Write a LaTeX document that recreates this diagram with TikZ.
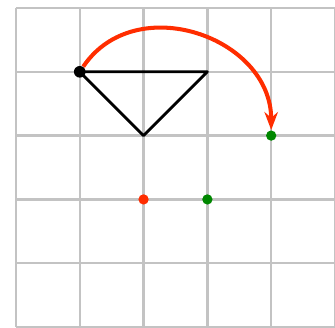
\documentclass[tikz,border=0pt]{standalone}
\usepackage{tikz}
\usetikzlibrary{positioning,arrows.meta}

\definecolor{rotred}{RGB}{255,45,0}
\definecolor{dotgreen}{RGB}{0,135,0}
\definecolor{gridgray}{RGB}{195,195,195}

\tikzset{
  gridline/.style={gridgray, line width=1.1pt},
  edge/.style={black, line width=1.25pt, line join=round},
  pt/.style={circle, fill, inner sep=0pt, minimum size=4.6pt},
  rotarrow/.style={rotred, line width=1.8pt, -{Stealth[length=8pt,width=6pt]}},
}

\begin{document}
\begin{tikzpicture}
  \useasboundingbox (-0.25,0) rectangle (5,5.125);
  % Griglia
  \draw[gridline] (0,0) grid (5,5);

  % Vertici del triangolo
  \coordinate (right) at (3,4);
  \coordinate (bottom) at (2,3);
  \node [pt, black, minimum size=5.2pt] (p) at (1,4) {};
  \node [pt, rotred] (centro) at (2,2) {};
  \node [pt, dotgreen, right=1cm of centro.center, anchor=center] (g1) {};
  \node [pt, dotgreen] (img) at (4,3) {};

  \draw[edge] (p.center) -- (right) -- (bottom) -- cycle;
  \draw[rotarrow] (p) to[out=56, in=90, looseness=1.2] (img);
\end{tikzpicture}
\end{document}
